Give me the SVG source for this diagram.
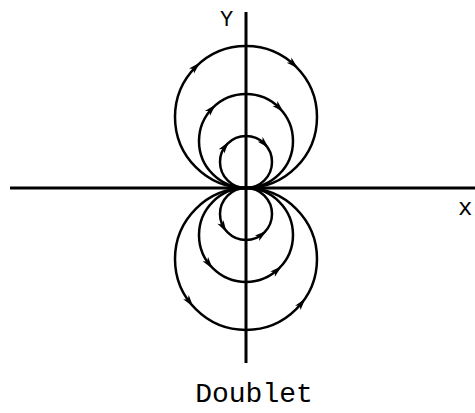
<svg xmlns="http://www.w3.org/2000/svg" xmlns:xlink="http://www.w3.org/1999/xlink" width="475" height="413" viewBox="0 0 475 413">
<style>
.axis{stroke:#000;stroke-width:3;fill:none}
.line{stroke:#000;stroke-width:2.5;fill:none}
.lbl{font-family:"Liberation Mono","DejaVu Sans Mono",monospace;fill:#000}
</style>
<defs>
<path id="ah" d="M6,0 L-6,-3.5 L-3,0 L-6,3.5 Z" fill="#000"/>
</defs>
<rect width="475" height="413" fill="#fff"/>
<g id="axes">
<line class="axis" x1="10" y1="188" x2="475" y2="188"/>
<line class="axis" x1="246" y1="12" x2="246" y2="363"/>
</g>
<g id="connectors">
<circle class="line" cx="246" cy="117" r="71"/>
<circle class="line" cx="246" cy="141" r="47"/>
<circle class="line" cx="246" cy="162" r="26"/>
<circle class="line" cx="246" cy="214" r="26"/>
<circle class="line" cx="246" cy="235" r="47"/>
<circle class="line" cx="246" cy="259" r="71"/>
<use xlink:href="#ah" transform="translate(195.8,66.8) rotate(-45)"/>
<use xlink:href="#ah" transform="translate(293.5,64.2) rotate(42)"/>
<use xlink:href="#ah" transform="translate(211.6,108.9) rotate(-47)"/>
<use xlink:href="#ah" transform="translate(279.2,107.8) rotate(45)"/>
<use xlink:href="#ah" transform="translate(225.1,146.5) rotate(-53.5)"/>
<use xlink:href="#ah" transform="translate(264.4,143.6) rotate(45)"/>
<use xlink:href="#ah" transform="translate(223.5,227.1) rotate(59.7)"/>
<use xlink:href="#ah" transform="translate(261.8,234.7) rotate(-37.3)"/>
<use xlink:href="#ah" transform="translate(209,263.9) rotate(52)"/>
<use xlink:href="#ah" transform="translate(277.1,270.2) rotate(-41.5)"/>
<use xlink:href="#ah" transform="translate(189.6,302) rotate(52.7)"/>
<use xlink:href="#ah" transform="translate(301.6,303.2) rotate(-51.5)"/>
</g>
<g id="labels">
<text class="lbl" x="226.5" y="26" font-size="22" text-anchor="middle">Y</text>
<text class="lbl" x="458" y="215" font-size="24">x</text>
<text class="lbl" x="254" y="402" font-size="28" text-anchor="middle">Doublet</text>
</g>
</svg>
